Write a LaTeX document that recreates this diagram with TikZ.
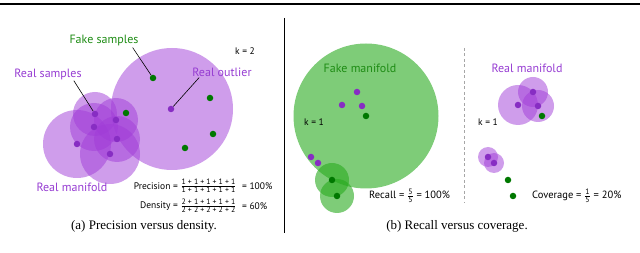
\documentclass[tikz,border=0pt]{standalone}
\usepackage{fontspec}
\setmainfont{PT Sans}
\newfontfamily\capfont{Liberation Serif}
\definecolor{pbase}{RGB}{160,60,215}
\definecolor{gbase}{RGB}{40,170,30}
\definecolor{pdot}{RGB}{135,45,195}
\definecolor{gdot}{RGB}{0,120,0}
\definecolor{ptext}{RGB}{150,60,210}
\definecolor{gtext}{RGB}{30,140,20}
\newcommand{\smallfrac}[2]{$\frac{\hbox{\fontsize{7.8}{8}\selectfont #1}}{\hbox{\fontsize{7.8}{8}\selectfont #2}}$}
\begin{document}
\begin{tikzpicture}[x=1pt,y=-1pt,
  pball/.style={fill=pbase,fill opacity=0.5},
  gball/.style={fill=gbase,fill opacity=0.6},
  pdt/.style={circle,fill=pdot,inner sep=0pt,minimum size=6.5pt},
  gdt/.style={circle,fill=gdot,inner sep=0pt,minimum size=6.5pt},
  lab/.style={font=\fontsize{12}{14}\selectfont,inner sep=0pt},
  small/.style={font=\fontsize{9.5}{11}\selectfont,inner sep=0pt},
  smallb/.style={font=\fontsize{10.5}{12}\selectfont,inner sep=0pt},
  captext/.style={font=\capfont\fontsize{13}{15}\selectfont,inner sep=0pt},
  callout/.style={draw=black,line width=0.6pt}]
\useasboundingbox (0,0) rectangle (640,253);
\coordinate (rl) at (0,4.3);
\coordinate (rr) at (640,4.3);
\draw[line width=2pt] (rl) -- (rr);

% ---------- panel (a) ----------
\fill[pball] (172,109) circle[radius=61pt];
\fill[pball] (95,114) circle[radius=22pt];
\fill[pball] (94,127) circle[radius=24pt];
\fill[pball] (116,120) circle[radius=22pt];
\fill[pball] (117,139) circle[radius=23pt];
\fill[pball] (77,144) circle[radius=34pt];
\fill[pball] (110,154) circle[radius=30pt];

\node[lab,text=gtext] (fslab) at (104,41) {Fake samples};
\node[lab,text=ptext] (rslab) at (48,74) {Real samples};
\node[lab,text=ptext] (rolab) at (222,72) {Real outlier};
\node[small] (k2) at (245,51) {k = 2};
\node[lab,text=ptext] (rmlab) at (72,187) {Real manifold};

\node[pdt] (p1) at (95,114) {};
\node[pdt] (p2) at (94,127) {};
\node[pdt] (p3) at (116,120) {};
\node[pdt] (p4) at (117,139) {};
\node[pdt] (p5) at (77,144) {};
\node[pdt] (p6) at (110,154) {};
\node[pdt] (po) at (171,109) {};
\node[gdt] (g1) at (153,78) {};
\node[gdt] (g2) at (126,113) {};
\node[gdt] (g3) at (210,98) {};
\node[gdt] (g4) at (213,134) {};
\node[gdt] (g5) at (185,148) {};

\draw[callout] ([xshift=-6pt,yshift=-1pt]fslab.south east) -- (g1);
\draw[callout] ([xshift=-8pt,yshift=-1pt]rslab.south east) -- (p1);
\draw[callout] ([xshift=7pt,yshift=-1pt]rolab.south west) -- (po);

\node[small,anchor=east] (prl) at (178,186) {Precision =};
\node[small] (prf) at (208.5,186) {\smallfrac{1 + 1 + 1 + 1 + 1}{1 + 1 + 1 + 1 + 1}};
\node[small,anchor=west] (prr) at (242,186) {= 100\%};
\node[small,anchor=east] (del) at (178,206) {Density =};
\node[small] (def) at (208.5,206) {\smallfrac{2 + 1 + 1 + 1 + 1}{2 + 2 + 2 + 2 + 2}};
\node[small,anchor=west] (der) at (242,206) {= 60\%};

\node[captext] (capa) at (144,226) {(a) Precision versus density.};

% separator
\coordinate (s1) at (284,18);
\coordinate (s2) at (284,233);
\draw[line width=0.8pt] (s1) -- (s2);

% ---------- panel (b) left ----------
\fill[gball] (366,116) circle[radius=72.5pt];
\fill[gball] (332,180) circle[radius=17pt];
\fill[gball] (337,196) circle[radius=17pt];
\node[lab,text=gtext] (fmlab) at (360,68) {Fake manifold};
\node[small] (k1a) at (314,122) {k = 1};
\node[pdt] (q1) at (357,92) {};
\node[pdt] (q2) at (342,105) {};
\node[pdt] (q3) at (362,106) {};
\node[pdt] (q4) at (311,157) {};
\node[pdt] (q5) at (318,163) {};
\node[gdt] (h1) at (366,116) {};
\node[gdt] (h2) at (332,180) {};
\node[gdt] (h3) at (337,196) {};
\node[smallb,anchor=west] (rec) at (369,196) {Recall = \smallfrac{5}{5} = 100\%};

% dashed separator
\coordinate (d1) at (464,48);
\coordinate (d2) at (464,203);
\draw[gray!70,line width=1pt,dash pattern=on 3pt off 2.5pt] (d1) -- (d2);

% ---------- panel (b) right ----------
\fill[pball] (518,105) circle[radius=20pt];
\fill[pball] (533,92) circle[radius=15pt];
\fill[pball] (538,106) circle[radius=16pt];
\fill[pball] (488,157) circle[radius=10pt];
\fill[pball] (494,163) circle[radius=10pt];
\node[lab,text=ptext] (rm2lab) at (527,68) {Real manifold};
\node[small] (k1b) at (488,122) {k = 1};
\node[pdt] (r1) at (518,105) {};
\node[pdt] (r2) at (533,92) {};
\node[pdt] (r3) at (538,106) {};
\node[pdt] (r4) at (488,157) {};
\node[pdt] (r5) at (494,163) {};
\node[gdt] (f1) at (542,116) {};
\node[gdt] (f2) at (508,180) {};
\node[gdt] (f3) at (513,196) {};
\node[smallb,anchor=west] (cov) at (532,196) {Coverage = \smallfrac{1}{5} = 20\%};

\node[captext] (capb) at (457,226) {(b) Recall versus coverage.};
\end{tikzpicture}
\end{document}
